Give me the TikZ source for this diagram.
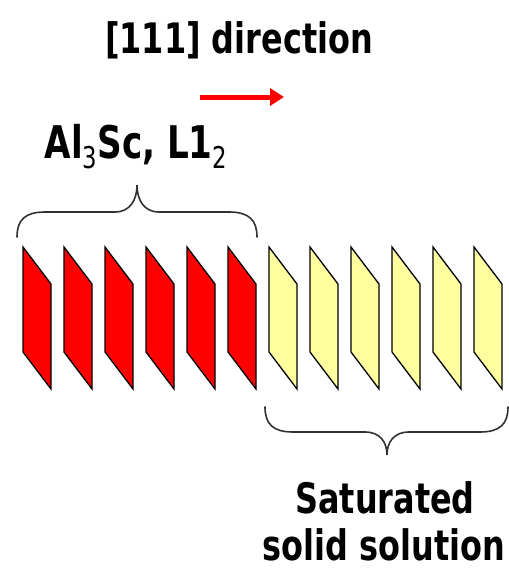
\documentclass[tikz,border=0pt]{standalone}
\usepackage{fontspec}
\setmainfont{DejaVu Sans}
\usetikzlibrary{arrows.meta}
\definecolor{plred}{RGB}{255,0,0}
\definecolor{plyel}{RGB}{255,255,160}
\definecolor{brc}{RGB}{50,50,50}
\tikzset{
  plane/.style={draw=black, line width=1.3pt, line join=miter},
  redplane/.style={plane, fill=plred},
  yelplane/.style={plane, fill=plyel},
  brace/.style={draw=brc, line width=1.6pt, line cap=round},
  lbl/.style={anchor=base, inner sep=0pt, font=\fontsize{42}{46}\selectfont\bfseries},
}
\newcommand{\sq}[1]{\scalebox{0.76}[1]{#1}}
\newcommand{\sbs}[1]{{\fontsize{30}{30}\selectfont\mdseries\raisebox{-10pt}{#1}}}
\begin{document}
\begin{tikzpicture}[x=1pt,y=-1pt]
\useasboundingbox (0,0) rectangle (509,571);
% title
\node[lbl] (title) at (239,53) {\sq{[111] direction}};
\coordinate (arrA) at (200,97);
\coordinate (arrB) at (284,97);
\draw[plred, line width=5pt, -{Triangle[length=14pt,width=17pt]}] (arrA) -- (arrB);
% Al3Sc label
\node[lbl, font=\fontsize{45}{48}\selectfont\bfseries] (al3sc) at (136,158) {\sq{Al\sbs{3}Sc, L1\sbs{2}}};
% planes
\foreach \i in {0,...,5} {
  \pgfmathsetmacro{\xx}{23+41*\i}
  \path[redplane] (\xx,247) -- (\xx+28,284) -- (\xx+28,389) -- (\xx,352) -- cycle;
}
\foreach \i in {6,...,11} {
  \pgfmathsetmacro{\xx}{23+41*\i}
  \path[yelplane] (\xx,247) -- (\xx+28,284) -- (\xx+28,389) -- (\xx,352) -- cycle;
}
% top brace
\draw[brace] (17,237) .. controls (17,220) and (25,212) .. (45,212) -- (115,212)
  .. controls (130,212) and (137,200) .. (137,185)
  .. controls (137,200) and (144,212) .. (159,212) -- (229,212)
  .. controls (249,212) and (257,220) .. (257,237);
% bottom brace
\draw[brace] (265,407) .. controls (265,424) and (273,432) .. (293,432) -- (365,432)
  .. controls (380,432) and (387,442) .. (387,455)
  .. controls (387,442) and (394,432) .. (409,432) -- (480,432)
  .. controls (500,432) and (508,424) .. (508,407);
% bottom label
\node[lbl] (sat) at (385,513) {\sq{Saturated}};
\node[lbl] (sol) at (384,560) {\sq{solid solution}};
\end{tikzpicture}
\end{document}
